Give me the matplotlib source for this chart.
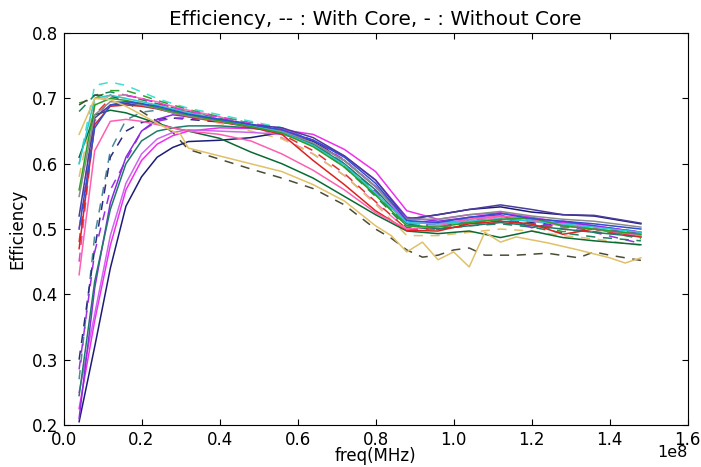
import numpy as np
import matplotlib
matplotlib.use('Agg')
import matplotlib.pyplot as plt

# frequency grid (MHz) shared by most curves
freq = [4, 8, 12, 16, 20, 24, 28, 32, 40, 48, 56, 64, 72, 80, 88, 96, 104, 112, 120, 128, 136, 148]

# without core (solid)
navy_s = [0.205, 0.32, 0.44, 0.535, 0.58, 0.61, 0.625, 0.634, 0.636, 0.640, 0.648, 0.634, 0.605, 0.565, 0.515, 0.522, 0.530, 0.534, 0.526, 0.522, 0.520, 0.508]
magenta_s = [0.225, 0.36, 0.475, 0.56, 0.605, 0.63, 0.643, 0.650, 0.655, 0.654, 0.652, 0.645, 0.622, 0.588, 0.528, 0.515, 0.522, 0.525, 0.518, 0.510, 0.505, 0.495]
violet_s = [0.25, 0.37, 0.49, 0.57, 0.615, 0.638, 0.648, 0.652, 0.650, 0.648, 0.645, 0.632, 0.605, 0.565, 0.51, 0.508, 0.515, 0.520, 0.515, 0.508, 0.50, 0.492]
blueviolet_s = [0.21, 0.41, 0.54, 0.61, 0.65, 0.668, 0.675, 0.672, 0.668, 0.660, 0.650, 0.636, 0.612, 0.575, 0.518, 0.512, 0.518, 0.522, 0.502, 0.512, 0.505, 0.495]
teal_s = [0.245, 0.42, 0.53, 0.60, 0.635, 0.650, 0.655, 0.658, 0.658, 0.655, 0.648, 0.630, 0.600, 0.560, 0.508, 0.500, 0.505, 0.510, 0.505, 0.500, 0.495, 0.488]
darkgreen_s = [0.61, 0.675, 0.682, 0.678, 0.670, 0.662, 0.655, 0.650, 0.639, 0.618, 0.600, 0.578, 0.550, 0.522, 0.497, 0.493, 0.497, 0.487, 0.497, 0.487, 0.482, 0.476]
red_s = [0.47, 0.66, 0.688, 0.690, 0.688, 0.684, 0.678, 0.672, 0.664, 0.656, 0.645, 0.605, 0.568, 0.528, 0.498, 0.497, 0.508, 0.512, 0.508, 0.492, 0.500, 0.488]
hotpink_s = [0.43, 0.62, 0.665, 0.668, 0.665, 0.660, 0.655, 0.650, 0.645, 0.635, 0.615, 0.590, 0.56, 0.525, 0.50, 0.505, 0.515, 0.52, 0.515, 0.505, 0.50, 0.49]
slateblue_s = [0.52, 0.67, 0.690, 0.692, 0.690, 0.685, 0.680, 0.675, 0.668, 0.660, 0.655, 0.640, 0.612, 0.575, 0.515, 0.522, 0.530, 0.537, 0.530, 0.522, 0.521, 0.509]
gray_s = [0.55, 0.675, 0.695, 0.695, 0.69, 0.685, 0.678, 0.673, 0.665, 0.657, 0.650, 0.632, 0.605, 0.565, 0.515, 0.515, 0.522, 0.527, 0.520, 0.515, 0.512, 0.503]
cyan_s = [0.60, 0.70, 0.705, 0.70, 0.695, 0.690, 0.684, 0.678, 0.668, 0.658, 0.648, 0.628, 0.598, 0.555, 0.510, 0.508, 0.512, 0.515, 0.512, 0.508, 0.503, 0.495]
green_s = [0.56, 0.69, 0.70, 0.697, 0.692, 0.686, 0.680, 0.675, 0.666, 0.657, 0.647, 0.626, 0.595, 0.552, 0.505, 0.503, 0.510, 0.515, 0.517, 0.505, 0.500, 0.492]
royal_s = [0.50, 0.655, 0.69, 0.695, 0.692, 0.688, 0.682, 0.676, 0.668, 0.660, 0.652, 0.636, 0.610, 0.570, 0.513, 0.510, 0.518, 0.524, 0.516, 0.512, 0.508, 0.500]

# with core (dashed)
cadet_d = [0.27, 0.49, 0.62, 0.667, 0.679, 0.682, 0.683, 0.680, 0.672, 0.663, 0.655, 0.635, 0.600, 0.555, 0.505, 0.503, 0.510, 0.512, 0.508, 0.503, 0.500, 0.493]
darkblue_d = [0.30, 0.47, 0.61, 0.650, 0.663, 0.668, 0.670, 0.668, 0.664, 0.658, 0.650, 0.630, 0.598, 0.555, 0.508, 0.505, 0.512, 0.515, 0.510, 0.505, 0.500, 0.494]
purple_d = [0.285, 0.465, 0.56, 0.605, 0.65, 0.665, 0.670, 0.670, 0.666, 0.660, 0.652, 0.632, 0.600, 0.558, 0.508, 0.506, 0.514, 0.518, 0.512, 0.508, 0.495, 0.478]
turq_d = [0.60, 0.72, 0.725, 0.72, 0.71, 0.700, 0.692, 0.685, 0.675, 0.665, 0.655, 0.632, 0.60, 0.555, 0.508, 0.505, 0.515, 0.518, 0.513, 0.508, 0.503, 0.496]
green_d = [0.693, 0.70, 0.712, 0.712, 0.705, 0.697, 0.690, 0.683, 0.672, 0.662, 0.652, 0.630, 0.598, 0.553, 0.505, 0.503, 0.510, 0.513, 0.508, 0.496, 0.500, 0.485]
seagreen_d = [0.68, 0.705, 0.71, 0.705, 0.698, 0.692, 0.686, 0.680, 0.670, 0.660, 0.650, 0.628, 0.595, 0.550, 0.502, 0.500, 0.505, 0.508, 0.503, 0.494, 0.488, 0.482]
pink_d = [0.50, 0.69, 0.705, 0.705, 0.70, 0.695, 0.688, 0.682, 0.672, 0.658, 0.640, 0.615, 0.582, 0.540, 0.500, 0.505, 0.512, 0.518, 0.512, 0.505, 0.500, 0.492]
red_d = [0.48, 0.675, 0.70, 0.705, 0.70, 0.693, 0.686, 0.678, 0.668, 0.657, 0.645, 0.620, 0.585, 0.542, 0.500, 0.500, 0.508, 0.512, 0.508, 0.500, 0.496, 0.488]
magenta_d = [0.45, 0.665, 0.70, 0.705, 0.70, 0.694, 0.687, 0.681, 0.671, 0.662, 0.654, 0.636, 0.606, 0.565, 0.512, 0.510, 0.516, 0.520, 0.514, 0.508, 0.504, 0.496]
khaki_d = [0.58, 0.695, 0.705, 0.70, 0.695, 0.688, 0.68, 0.673, 0.662, 0.650, 0.638, 0.615, 0.582, 0.538, 0.49, 0.49, 0.495, 0.50, 0.497, 0.49, 0.485, 0.475]

# the two low curves have their own finer grid
freq_khaki = [4, 8, 12, 16, 20, 24, 28, 30, 32, 40, 48, 56, 64, 72, 80, 84, 88, 92, 96, 100, 104, 108, 112, 116, 124, 132, 140, 144, 148]
khaki_s = [0.645, 0.70, 0.698, 0.688, 0.675, 0.662, 0.650, 0.645, 0.624, 0.612, 0.600, 0.588, 0.568, 0.543, 0.505, 0.490, 0.465, 0.480, 0.453, 0.465, 0.442, 0.495, 0.480, 0.488, 0.479, 0.468, 0.456, 0.448, 0.456]
freq_olive = [4, 8, 12, 16, 20, 24, 28, 32, 40, 48, 56, 64, 72, 80, 84, 88, 92, 96, 100, 104, 108, 112, 116, 124, 132, 136, 140, 148]
olive_d = [0.69, 0.705, 0.705, 0.695, 0.68, 0.665, 0.648, 0.622, 0.607, 0.592, 0.578, 0.562, 0.537, 0.500, 0.486, 0.468, 0.457, 0.46, 0.468, 0.471, 0.46, 0.46, 0.46, 0.463, 0.456, 0.465, 0.46, 0.452]

solid = [(navy_s, '#1e1b78'), (magenta_s, '#ee30ee'), (violet_s, '#cc66ee'), (blueviolet_s, '#8a2be2'),
         (teal_s, '#1f7a6a'), (darkgreen_s, '#0a6a35'), (red_s, '#dd2222'), (hotpink_s, '#ff5fb0'),
         (slateblue_s, '#4a3c9a'), (gray_s, '#8c8c8c'), (cyan_s, '#30c8d8'), (green_s, '#2aa02a'),
         (royal_s, '#3050d0')]
dashed = [(cadet_d, '#4a8a9a'), (darkblue_d, '#2a2a80'), (purple_d, '#9a30e0'), (turq_d, '#40e0d0'),
          (green_d, '#30a030'), (seagreen_d, '#208060'), (pink_d, '#ff70c0'), (red_d, '#e03030'),
          (magenta_d, '#e040e0'), (khaki_d, '#e0c070')]

plt.rcParams['font.size'] = 12
plt.rcParams['xtick.direction'] = 'in'
plt.rcParams['ytick.direction'] = 'in'
plt.rcParams['xtick.top'] = True
plt.rcParams['ytick.right'] = True

fig = plt.figure(figsize=(7.01, 4.67), dpi=100)
ax = fig.add_axes([0.0906, 0.09, 0.8904, 0.839])

f_hz = np.array(freq) * 1e6
for vals, c in dashed:
    ax.plot(f_hz, vals, '--', color=c, linewidth=1.1, dashes=(6, 5))
ax.plot(np.array(freq_olive) * 1e6, olive_d, '--', color='#4b4b38', linewidth=1.1, dashes=(6, 5))
for vals, c in solid:
    ax.plot(f_hz, vals, '-', color=c, linewidth=1.1)
ax.plot(np.array(freq_khaki) * 1e6, khaki_s, '-', color='#e0c068', linewidth=1.1)

ax.set_xlim(0, 1.6e8)
ax.set_ylim(0.2, 0.8)
ax.set_title('Efficiency, -- : With Core, - : Without Core')
ax.set_xlabel('freq(MHz)', labelpad=-1)
ax.set_ylabel('Efficiency')
ax.tick_params(pad=4, length=4)
ax.xaxis.get_offset_text().set_fontsize(11.5)
ax.xaxis.get_offset_text().set_verticalalignment('center')

plt.savefig('out.png')
